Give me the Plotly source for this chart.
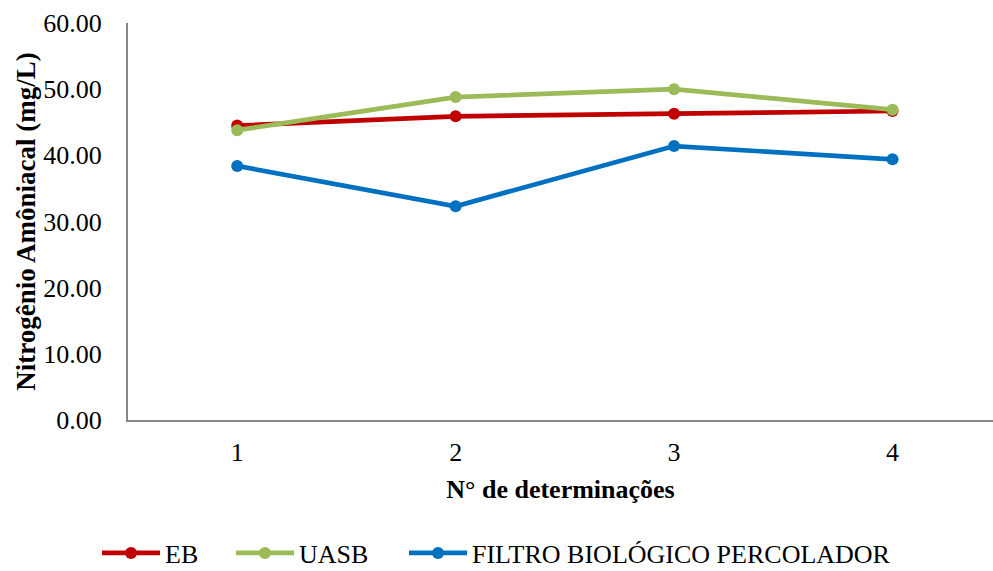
import plotly.graph_objects as go

determinacoes = [1, 2, 3, 4]
eb = [44.5, 45.9, 46.3, 46.7]
uasb = [43.8, 48.8, 50.0, 46.9]
filtro = [38.4, 32.3, 41.4, 39.4]
y_ticks = [0, 10, 20, 30, 40, 50, 60]

series = [
    ("EB", eb, "#C00000", "legend"),
    ("UASB", uasb, "#9BBB59", "legend2"),
    ("FILTRO BIOLÓGICO PERCOLADOR", filtro, "#0070C0", "legend3"),
]

fig = go.Figure()
for name, vals, color, leg in series:
    fig.add_trace(go.Scatter(
        x=determinacoes, y=vals, name=name, mode="lines+markers",
        line=dict(color=color, width=4.7),
        marker=dict(color=color, size=12),
        legend=leg,
    ))

font_family = "Times New Roman, Liberation Serif, serif"
plot_left, plot_width = 128, 865


def legend_at(px):
    return dict(
        orientation="h", x=(px - plot_left) / plot_width, xanchor="left",
        y=-0.335, yanchor="middle", font=dict(size=26, family=font_family),
        itemwidth=58, bgcolor="rgba(0,0,0,0)",
    )


fig.update_layout(
    width=993, height=571,
    margin=dict(l=128, r=0, t=23, b=151, autoexpand=False),
    paper_bgcolor="white", plot_bgcolor="white",
    font=dict(family=font_family, size=26, color="black"),
    showlegend=True,
    legend=legend_at(97),
    legend2=legend_at(231),
    legend3=legend_at(404),
    xaxis=dict(
        range=[0.5, 4.46], tickvals=determinacoes, ticktext=[str(d) for d in determinacoes],
        showgrid=False, zeroline=False, showline=True, linecolor="#868686", linewidth=2,
        ticks="", ticklabelstandoff=8,
        title=dict(text="<b>N° de determinações</b>", font=dict(size=26), standoff=14),
    ),
    yaxis=dict(
        range=[0, 60], tickvals=y_ticks, ticktext=[f"{v:.2f}" for v in y_ticks],
        showgrid=False, zeroline=False, showline=True, linecolor="#868686", linewidth=2,
        ticks="", ticklabelstandoff=19,
        title=dict(text="<b>Nitrogênio Amôniacal (mg/L)</b>", font=dict(size=27), standoff=0),
    ),
)

fig.write_html("out.html")
